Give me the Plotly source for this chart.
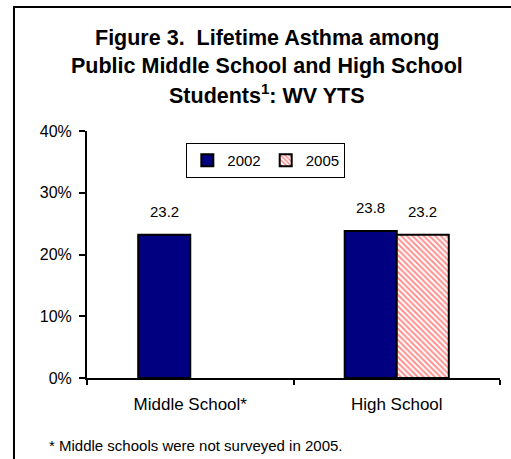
import plotly.graph_objects as go

# Lifetime asthma prevalence (%) by school level and survey year
categories = ["Middle School*", "High School"]
years = ["2002", "2005"]
pct_2002 = [23.2, 23.8]
pct_2005 = [None, 23.2]   # middle schools not surveyed in 2005
y_ticks = [0, 10, 20, 30, 40]
y_tick_labels = ["0%", "10%", "20%", "30%", "40%"]

FONT = "Arial, Liberation Sans, sans-serif"
BARGAP = 0.496

fig = go.Figure()
fig.add_trace(go.Bar(
    name=years[0], x=categories, y=pct_2002,
    marker=dict(color="#000080", line=dict(color="black", width=2)),
))
fig.add_trace(go.Bar(
    name=years[1], x=categories, y=pct_2005,
    marker=dict(color="white", line=dict(color="black", width=2),
                pattern=dict(shape="\\", fgcolor="#FF2020", bgcolor="white",
                             size=4, solidity=0.5)),
))

# value labels above each bar (bar centres sit a quarter of the group width off-centre)
half = (1 - BARGAP) / 4
annotations = []
for offset, series in ((-half, pct_2002), (half, pct_2005)):
    for i, v in enumerate(series):
        if v is None:
            continue
        annotations.append(dict(
            x=i + offset, y=v, xref="x", yref="y", text=f"{v:.1f}",
            showarrow=False, yanchor="bottom", yshift=13,
            font=dict(family=FONT, size=15, color="black"),
        ))

# three-line title
title_lines = [
    "Figure 3.  Lifetime Asthma among",
    "Public Middle School and High School",
    "Students<sup>1</sup>: WV YTS",
]
for line, yp in zip(title_lines, (1.377, 1.262, 1.150)):
    annotations.append(dict(
        x=0.435, y=yp, xref="paper", yref="paper", text=f"<b>{line}</b>",
        showarrow=False, xanchor="center", yanchor="middle",
        font=dict(family=FONT, size=21.5, color="black"),
    ))

# footnote
annotations.append(dict(
    x=-0.097, y=-0.275, xref="paper", yref="paper",
    text="* Middle schools were not surveyed in 2005.",
    showarrow=False, xanchor="left", yanchor="middle",
    font=dict(family=FONT, size=15, color="black"),
))

fig.update_layout(
    width=511, height=459,
    margin=dict(l=87, r=11, t=131, b=81),
    paper_bgcolor="white", plot_bgcolor="white",
    barmode="group", bargap=BARGAP, bargroupgap=0,
    showlegend=True,
    legend=dict(
        orientation="h", x=0.433, y=0.951, xanchor="center", yanchor="top",
        bordercolor="black", borderwidth=1, bgcolor="white",
        font=dict(family=FONT, size=15, color="black"),
        itemwidth=30, tracegroupgap=0,
    ),
    font=dict(family=FONT, color="black"),
    annotations=annotations,
    shapes=[dict(
        type="rect", xref="paper", yref="paper",
        x0=-0.1768, x1=1.04, y0=-0.36, y1=1.502,
        line=dict(color="black", width=2), layer="below",
    )],
)

fig.update_xaxes(
    showline=True, linecolor="black", linewidth=2,
    ticks="outside", ticklen=5, tickwidth=2, tickcolor="black",
    tickson="boundaries", showgrid=False, ticklabelstandoff=10,
    tickfont=dict(family=FONT, size=17, color="black"),
)
fig.update_yaxes(
    range=[0, 40], tickvals=y_ticks, ticktext=y_tick_labels,
    showline=True, linecolor="black", linewidth=2,
    ticks="outside", ticklen=6, tickwidth=2, tickcolor="black",
    showgrid=False, zeroline=False, ticklabelstandoff=4,
    tickfont=dict(family=FONT, size=16, color="black"),
)

fig.write_html("out.html")
